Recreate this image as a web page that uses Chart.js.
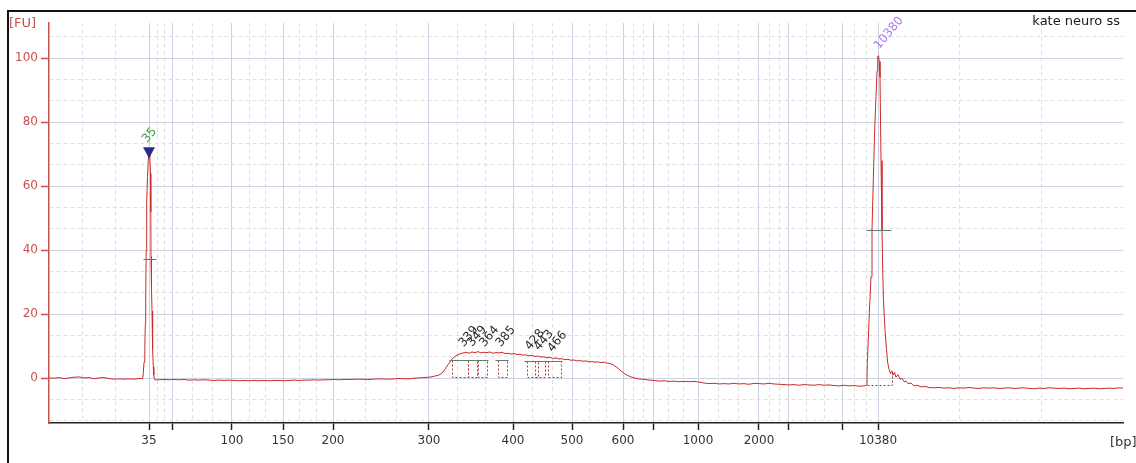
<!DOCTYPE html>
<html>
<head>
<meta charset="utf-8">
<script src="https://cdn.jsdelivr.net/npm/chart.js@4.4.1/dist/chart.umd.min.js"></script>
<style>
  html, body { margin: 0; padding: 0; background: #fff; }
  #wrap { position: relative; width: 1136px; height: 463px; overflow: hidden; }
  #wrap canvas { position: absolute; left: 0; top: 0; }
  #frame { position: absolute; left: 7px; top: 10px; right: -4px; bottom: -4px;
           border-top: 2px solid #111; border-left: 2px solid #111; pointer-events: none; }
</style>
</head>
<body>
<div id="wrap">
  <canvas id="epg" width="1136" height="463"></canvas>
  <div id="frame"></div>
</div>
<script>
/* Electropherogram – High Sensitivity DNA run, sample "kate neuro ss" */

const SAMPLE = 'kate neuro ss';

// ladder bands: migration time (s) and fragment size (bp); 0 = band not labelled on the axis
const ladderSec   = [30.0, 32.4, 38.3, 43.4, 48.4, 58.0, 66.4, 72.3, 77.4, 80.5, 84.9, 91.0, 94.0, 99.3, 102.9];
const ladderBp    = [35, 50, 100, 150, 200, 300, 400, 500, 600, 700, 1000, 2000, 3000, 7000, 10380];
const ladderShown = [1, 0, 1, 1, 1, 1, 1, 1, 1, 0, 1, 1, 0, 0, 1];

// fluorescence axis labels
const fuLabels = [0, 20, 40, 60, 80, 100];

// lower / upper marker
const markerBp     = [35, 10380];
const markerColors = ['#3d9a3d', '#a97cf2'];
const markerHalfFU = [37.2, 46.3];
const markerHalfSec = [[29.4, 30.7], [101.7, 104.2]];

// called peaks inside the smear
const smearPeakBp   = [339, 349, 364, 385, 428, 443, 466];
const smearPeakFrom = [60.3, 61.9, 62.9, 64.9, 67.8, 68.6, 69.9];
const smearPeakTo   = [61.9, 62.8, 63.8, 65.8, 68.9, 69.6, 71.2];
const smearPeakHalf = [5.7, 5.7, 5.7, 5.7, 5.5, 5.4, 5.3];
const smearBaseFU   = 0.3;

// upper marker baseline (s from, s to, FU)
const upperBase = [101.8, 104.3, -2.2];

// raw trace: [time (s), FU]
const trace = [
  [20.0, 0.1], [20.5, 0.0], [21.0, 0.2], [21.5, -0.1], [22.0, 0.1], [22.5, 0.3], [23.0, 0.4], [23.5, 0.1],
  [24.0, 0.2], [24.5, -0.2], [25.0, 0.1], [25.5, 0.2], [26.0, -0.1], [26.5, -0.3], [27.0, -0.2], [27.5, -0.3],
  [28.0, -0.2], [28.5, -0.3], [29.0, -0.1], [29.3, -0.1],
  [29.38, 0.2], [29.43, 1.5], [29.5, 5], [29.58, 9], [29.63, 17], [29.67, 24], [29.72, 40], [29.77, 55],
  [29.85, 63], [29.93, 68], [30.0, 70], [30.08, 69], [30.15, 64], [30.18, 52], [30.2, 38], [30.25, 28],
  [30.3, 21], [30.34, 15], [30.38, 9], [30.43, 3.5], [30.48, 1], [30.53, -0.2], [30.6, -0.5],
  [31.0, -0.5], [31.5, -0.4], [32.0, -0.5], [32.5, -0.4], [33.0, -0.5], [33.5, -0.4], [34.0, -0.6], [34.5, -0.5],
  [35.0, -0.6], [35.5, -0.5], [36.0, -0.6], [36.5, -0.7], [37.0, -0.6], [37.5, -0.7], [38.0, -0.6], [38.5, -0.7],
  [39.0, -0.8], [39.5, -0.7], [40.0, -0.8], [40.5, -0.7], [41.0, -0.8], [41.5, -0.7], [42.0, -0.8], [42.5, -0.7],
  [43.0, -0.7], [43.5, -0.8], [44.0, -0.7], [44.5, -0.6], [45.0, -0.7], [45.5, -0.6], [46.0, -0.6], [46.5, -0.5],
  [47.0, -0.6], [47.5, -0.5], [48.0, -0.5], [48.5, -0.4], [49.0, -0.5], [49.5, -0.4], [50.0, -0.4], [51.0, -0.3],
  [52.0, -0.4], [53.0, -0.2], [54.0, -0.3], [55.0, -0.1], [56.0, -0.2], [56.5, 0.0], [57.0, 0.1], [57.5, 0.2],
  [58.0, 0.3], [58.5, 0.6], [59.0, 1.0], [59.3, 1.6], [59.6, 2.8], [59.9, 4.2], [60.2, 5.6], [60.5, 6.6],
  [60.8, 7.2], [61.1, 7.6], [61.4, 7.9], [61.7, 8.1], [62.0, 7.8], [62.3, 8.2], [62.6, 8.0], [62.9, 8.3],
  [63.2, 7.9], [63.5, 8.1], [63.8, 8.0], [64.1, 8.2], [64.4, 7.8], [64.7, 8.0], [65.0, 7.9], [65.3, 8.1],
  [65.6, 7.7], [65.9, 7.8], [66.2, 7.5], [66.5, 7.7], [66.8, 7.4], [67.1, 7.5], [67.4, 7.2], [67.7, 7.3],
  [68.0, 7.0], [68.3, 7.1], [68.6, 6.8], [68.9, 6.9], [69.2, 6.6], [69.5, 6.7], [69.8, 6.4], [70.1, 6.5],
  [70.4, 6.2], [70.7, 6.3], [71.0, 6.0], [71.3, 6.1], [71.6, 5.8], [71.9, 5.9], [72.2, 5.6], [72.5, 5.7],
  [72.8, 5.4], [73.1, 5.5], [73.4, 5.3], [73.7, 5.4], [74.0, 5.1], [74.3, 5.2], [74.6, 5.0], [74.9, 5.1],
  [75.2, 4.9], [75.5, 5.0], [75.8, 4.7], [76.1, 4.6], [76.4, 4.2], [76.7, 3.6], [77.0, 2.8], [77.3, 2.0],
  [77.6, 1.3], [77.9, 0.8], [78.2, 0.4], [78.5, 0.1], [78.8, -0.1], [79.2, -0.3], [79.6, -0.4], [80.0, -0.6],
  [80.5, -0.7], [81.0, -0.9], [81.5, -0.8], [82.0, -1.0], [82.5, -0.9], [83.0, -1.1], [83.5, -1.0], [84.0, -1.1],
  [84.5, -1.0], [85.0, -1.2], [85.5, -1.5], [86.0, -1.7], [86.5, -1.6], [87.0, -1.8], [87.5, -1.7], [88.0, -1.8],
  [88.5, -1.6], [89.0, -1.8], [89.5, -1.7], [90.0, -1.9], [90.5, -1.6], [91.0, -1.7], [91.5, -1.8], [92.0, -1.6],
  [92.5, -1.8], [93.0, -1.9], [93.5, -2.0], [94.0, -2.1], [94.5, -2.0], [95.0, -2.2], [95.5, -2.0], [96.0, -2.1],
  [96.5, -2.2], [97.0, -2.0], [97.5, -2.2], [98.0, -2.1], [98.5, -2.3], [99.0, -2.4], [99.5, -2.2], [100.0, -2.4],
  [100.5, -2.3], [101.0, -2.5], [101.5, -2.4], [101.77, -2.2],
  [101.8, -0.5], [101.83, 4.8], [101.93, 12], [102.03, 20.4], [102.12, 26], [102.2, 31.7], [102.3, 46.3],
  [102.43, 62], [102.57, 77.6], [102.7, 88], [102.8, 96], [102.87, 100.5], [102.95, 100.8], [103.03, 99],
  [103.1, 94], [103.2, 68], [103.3, 46], [103.43, 25.4], [103.6, 15], [103.75, 9], [103.87, 4.8], [104.0, 2.8],
  [104.15, 1.4], [104.3, 2.3], [104.4, 0.9], [104.55, 1.9], [104.7, 0.3], [104.9, 1.1], [105.1, -0.4], [105.3, 0.0],
  [105.5, -1.1], [105.7, -0.9], [105.9, -1.7], [106.2, -1.5], [106.5, -2.4], [106.8, -2.2], [107.2, -2.7], [107.6, -2.6],
  [108.0, -2.9], [108.5, -3.0], [109.0, -2.9], [109.5, -3.1], [110.0, -3.0], [110.5, -3.2], [111.0, -3.0], [111.5, -3.1],
  [112.0, -2.9], [112.5, -3.1], [113.0, -3.2], [113.5, -3.0], [114.0, -3.1], [114.5, -3.0], [115.0, -3.2], [115.5, -3.1],
  [116.0, -3.0], [116.5, -3.2], [117.0, -3.1], [117.5, -3.0], [118.0, -3.2], [118.5, -3.3], [119.0, -3.1], [119.5, -3.2],
  [120.0, -3.0], [120.5, -3.1], [121.0, -3.2], [121.5, -3.1], [122.0, -3.3], [122.5, -3.2], [123.0, -3.1], [123.5, -3.3],
  [124.0, -3.2], [124.5, -3.1], [125.0, -3.3], [125.5, -3.2], [126.0, -3.1], [126.5, -3.2], [127.0, -3.0], [127.4, -3.1]
];

const X_MIN = 20, X_MAX = 127.4;
const Y_MIN = -14, Y_MAX = 111;

const RED = '#cc2b2b';
const AXIS_RED = '#c9504f';
const GRID_MAJOR = '#ccd2e4';
const GRID_MINOR = '#e0e0e0';
const FONT = 'DejaVu Sans';

// size (bp) -> migration time, log-linear between ladder bands
function secForBp(bp) {
  for (let i = 0; i < ladderBp.length - 1; i++) {
    if (bp >= ladderBp[i] && bp <= ladderBp[i + 1]) {
      const f = Math.log(bp / ladderBp[i]) / Math.log(ladderBp[i + 1] / ladderBp[i]);
      return ladderSec[i] + f * (ladderSec[i + 1] - ladderSec[i]);
    }
  }
  return bp < ladderBp[0] ? ladderSec[0] : ladderSec[ladderSec.length - 1];
}

// highest trace value near a given time
function apexFU(sec) {
  let m = -Infinity;
  trace.forEach(([t, v]) => { if (Math.abs(t - sec) < 0.35 && v > m) m = v; });
  return m;
}

// major ticks plus two dashed grid lines between each pair
function withThirds(stops) {
  const out = [];
  for (let i = 0; i < stops.length - 1; i++) {
    const a = stops[i].value, b = stops[i + 1].value, step = (b - a) / 3;
    if (i > 0) out.push(stops[i]);
    out.push({ value: a + step }, { value: a + 2 * step });
  }
  return out;
}

const isMajor = c => !!(c.tick && c.tick.major);

const annotate = {
  id: 'annotate',
  afterDatasetsDraw(chart) {
    const { ctx, scales: { x, y } } = chart;
    const px = v => Math.round(x.getPixelForValue(v)) + 0.5;
    const py = v => Math.round(y.getPixelForValue(v)) + 0.5;
    ctx.save();

    // integration windows of the smear peaks
    ctx.lineWidth = 1;
    ctx.strokeStyle = '#a83c3c';
    ctx.setLineDash([2, 2]);
    smearPeakFrom.forEach((from, i) => {
      const x0 = px(from), x1 = px(smearPeakTo[i]);
      const yb = py(smearBaseFU), yt = py(smearPeakHalf[i]);
      ctx.beginPath();
      ctx.moveTo(x0, yt); ctx.lineTo(x0, yb); ctx.lineTo(x1, yb); ctx.lineTo(x1, yt);
      ctx.stroke();
    });
    // upper marker baseline
    ctx.beginPath();
    ctx.moveTo(px(upperBase[0]), py(upperBase[2]));
    ctx.lineTo(px(upperBase[1]), py(upperBase[2]));
    ctx.lineTo(px(upperBase[1]), py(2.0));
    ctx.stroke();
    ctx.setLineDash([]);

    // half-height bars
    ctx.strokeStyle = '#66786e';
    smearPeakFrom.forEach((from, i) => {
      ctx.beginPath();
      ctx.moveTo(px(from) - 3, py(smearPeakHalf[i]));
      ctx.lineTo(px(smearPeakTo[i]) + 1, py(smearPeakHalf[i]));
      ctx.stroke();
    });
    markerHalfSec.forEach(([a, b], i) => {
      ctx.beginPath();
      ctx.moveTo(px(a), py(markerHalfFU[i]));
      ctx.lineTo(px(b), py(markerHalfFU[i]));
      ctx.stroke();
    });

    // lower marker flag
    const lx = x.getPixelForValue(secForBp(markerBp[0]));
    const tip = y.getPixelForValue(apexFU(secForBp(markerBp[0]))) + 4;
    ctx.fillStyle = '#2c2a85';
    ctx.beginPath();
    ctx.moveTo(lx, tip); ctx.lineTo(lx - 6, tip - 11); ctx.lineTo(lx + 6, tip - 11);
    ctx.closePath();
    ctx.fill();

    // rotated size labels
    const label = (bp, color, dx, lift) => {
      const s = secForBp(bp);
      const x0 = x.getPixelForValue(s) + dx;
      const y0 = y.getPixelForValue(apexFU(s)) - lift;
      ctx.save();
      ctx.translate(x0, y0);
      ctx.rotate(-50 * Math.PI / 180);
      ctx.fillStyle = color;
      ctx.font = '12px ' + FONT;
      ctx.textAlign = 'left';
      ctx.textBaseline = 'alphabetic';
      ctx.fillText(String(bp), 0, 0);
      ctx.restore();
    };
    label(markerBp[0], markerColors[0], -2, 11);
    label(markerBp[1], markerColors[1], 1, 6);
    smearPeakBp.forEach(bp => label(bp, '#2a2a2a', -1, 5));

    // axis titles and sample name
    ctx.font = '13px ' + FONT;
    ctx.textBaseline = 'middle';
    ctx.fillStyle = AXIS_RED;
    ctx.textAlign = 'left';
    ctx.fillText('[FU]', 9, 24);
    ctx.fillStyle = '#333';
    ctx.fillText('[bp]', 1110, 443);
    ctx.fillStyle = '#1a1a1a';
    ctx.textAlign = 'right';
    ctx.fillText(SAMPLE, 1120, 22);
    ctx.restore();
  }
};

new Chart(document.getElementById('epg'), {
  type: 'line',
  data: {
    datasets: [{
      data: trace.map(([t, v]) => ({ x: t, y: v })),
      borderColor: RED,
      borderWidth: 1,
      pointRadius: 0,
      tension: 0,
      fill: false
    }]
  },
  options: {
    responsive: false,
    animation: false,
    events: [],
    layout: { padding: { left: 0, top: 23, right: 13, bottom: 0 } },
    plugins: { legend: { display: false }, tooltip: { enabled: false } },
    scales: {
      x: {
        type: 'linear',
        min: X_MIN,
        max: X_MAX,
        afterBuildTicks: s => {
          const stops = [{ value: X_MIN }]
            .concat(ladderSec.map((v, i) => ({ value: v, major: true, bp: ladderBp[i], shown: ladderShown[i] })))
            .concat([{ value: X_MAX }]);
          s.ticks = withThirds(stops);
        },
        afterFit: s => { s.height = 40; },
        ticks: {
          autoSkip: false,
          maxRotation: 0,
          padding: 4,
          color: '#333',
          font: { family: FONT, size: 12 },
          callback: (v, i, ticks) => (ticks[i].major && ticks[i].shown ? String(ticks[i].bp) : '')
        },
        grid: {
          color: c => (isMajor(c) ? GRID_MAJOR : GRID_MINOR),
          lineWidth: 1,
          tickLength: 7,
          tickColor: '#222',
          tickWidth: c => (isMajor(c) ? 1.5 : 0)
        },
        border: { color: '#222', width: 1.5, dash: c => (c.tick && !c.tick.major ? [4, 3] : []) }
      },
      y: {
        type: 'linear',
        min: Y_MIN,
        max: Y_MAX,
        afterBuildTicks: s => {
          const stops = [{ value: -20 }].concat(fuLabels.map(v => ({ value: v, major: true }))).concat([{ value: 120 }]);
          s.ticks = withThirds(stops).filter(t => t.value > Y_MIN && t.value < Y_MAX);
        },
        afterFit: s => { s.width = 49; },
        ticks: {
          autoSkip: false,
          padding: 3,
          color: AXIS_RED,
          font: { family: FONT, size: 12 },
          callback: (v, i, ticks) => (ticks[i].major ? String(Math.round(v)) : '')
        },
        grid: {
          color: c => (isMajor(c) ? GRID_MAJOR : GRID_MINOR),
          lineWidth: 1,
          tickLength: 8,
          tickColor: AXIS_RED,
          tickWidth: c => (isMajor(c) ? 1.5 : 0)
        },
        border: { color: AXIS_RED, width: 1.5, dash: c => (c.tick && !c.tick.major ? [4, 3] : []) }
      }
    }
  },
  plugins: [annotate]
});
</script>
</body>
</html>
